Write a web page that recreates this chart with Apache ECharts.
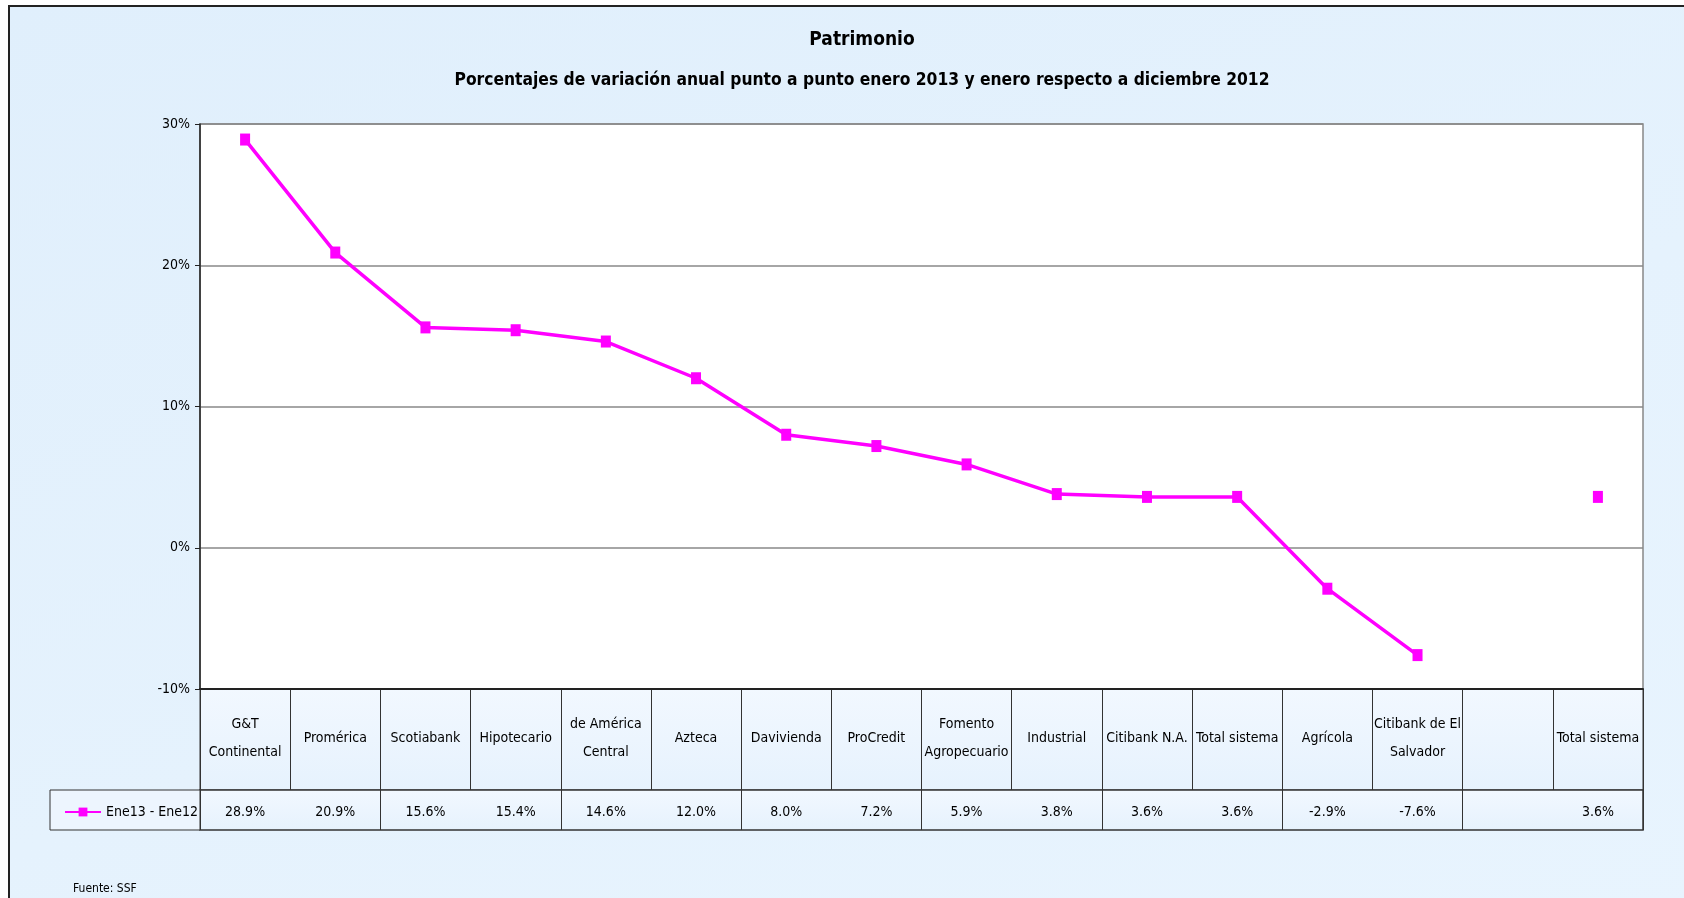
<!DOCTYPE html>
<html><head><meta charset="utf-8">
<script src="https://cdn.jsdelivr.net/npm/echarts@6/dist/echarts.min.js"></script>
<style>
html,body{margin:0;padding:0;background:#fff;overflow:hidden;}
#bg{position:absolute;left:8px;top:5px;width:1700px;height:920px;border-left:2px solid #222;border-top:2px solid #222;background:linear-gradient(160deg,#E0EFFC 0%,#E5F2FD 55%,#E8F4FE 100%);}
#chart{position:absolute;left:0;top:0;width:1684px;height:898px;}
</style></head><body>
<div id="bg"></div><div id="chart"></div>
<script>
const categories = ['G&T\nContinental','Promérica','Scotiabank','Hipotecario','de América\nCentral','Azteca','Davivienda','ProCredit','Fomento\nAgropecuario','Industrial','Citibank N.A.','Total sistema','Agrícola','Citibank de El\nSalvador','','Total sistema'];
const values = [28.9,20.9,15.6,15.4,14.6,12.0,8.0,7.2,5.9,3.8,3.6,3.6,-2.9,-7.6,null,3.6];
const seriesName = 'Ene13 - Ene12';
const titleText = 'Patrimonio';
const subtitleText = 'Porcentajes de variación anual punto a punto enero 2013 y enero respecto a diciembre 2012';
const sourceText = 'Fuente: SSF';
const yMin = -10, yMax = 30, yInterval = 10;

const FONT = "'Liberation Sans Narrow','Arial Narrow','DejaVu Sans Condensed',sans-serif";
const fmt = v => (v === null || v === undefined) ? '' : v.toFixed(1) + '%';
const cellBg = {type: 'linear', x: 0, y: 0, x2: 0, y2: 1,
  colorStops: [{offset: 0, color: '#F2F8FF'}, {offset: 1, color: '#E6F2FD'}]};
const L = 200, R = 41;

const chart = echarts.init(document.getElementById('chart'), null, {renderer:'canvas'});
chart.setOption({
  animation: false,
  textStyle: {fontFamily: FONT},
  title: [
    {text: titleText, left: 862, top: 31, textAlign: 'center', padding: 0,
     textStyle: {fontFamily: FONT, fontSize: 19, fontWeight: 'bold', color: '#000'}},
    {text: subtitleText, left: 862, top: 72, textAlign: 'center', padding: 0,
     textStyle: {fontFamily: FONT, fontSize: 17.3, fontWeight: 'bold', color: '#000'}}
  ],
  legend: {
    data: [seriesName], left: 64, top: 805, padding: 0, z: 10,
    itemWidth: 36, itemHeight: 11, itemGap: 5,
    textStyle: {fontFamily: FONT, fontSize: 14, color: '#000'}
  },
  graphic: [
    {type: 'rect', z: 1, shape: {x: 50, y: 790, width: L - 50, height: 40},
     style: {fill: '#EDF5FE', stroke: '#333', lineWidth: 1}},
    {type: 'text', z: 1, left: 73, top: 883,
     style: {text: sourceText, font: "12px " + FONT, fill: '#000'}}
  ],
  grid: [
    {left: L, right: R, top: 124, height: 565, show: true, backgroundColor: '#fff', borderColor: '#888', borderWidth: 1.5},
    {left: L, right: R, top: 689, height: 101, show: true, backgroundColor: cellBg, borderColor: '#333', borderWidth: 1},
    {left: L, right: R, top: 790, height: 40, show: true, backgroundColor: cellBg, borderColor: '#333', borderWidth: 1.5}
  ],
  xAxis: [
    {gridIndex: 0, type: 'category', data: categories, boundaryGap: true,
     axisLine: {onZero: false, lineStyle: {color: '#222', width: 2}},
     axisTick: {show: false},
     axisLabel: {interval: 0, margin: 49, verticalAlign: 'middle', lineHeight: 28,
                 fontFamily: FONT, fontSize: 14, color: '#000'},
     z: 5},
    {gridIndex: 1, type: 'category', data: categories, boundaryGap: true,
     axisLine: {show: false}, axisTick: {show: false},
     splitLine: {show: true, lineStyle: {color: '#333', width: 1}},
     axisLabel: {interval: 0, margin: 22, verticalAlign: 'middle',
                 fontFamily: FONT, fontSize: 14, color: '#000',
                 formatter: (v, i) => fmt(values[i])}},
    {gridIndex: 2, type: 'category', data: categories, boundaryGap: true,
     axisLine: {show: false}, axisTick: {show: false}, axisLabel: {show: false},
     splitLine: {show: true, lineStyle: {color: '#333', width: 1}}}
  ],
  yAxis: [
    {gridIndex: 0, type: 'value', min: yMin, max: yMax, interval: yInterval,
     axisLine: {show: true, lineStyle: {color: '#222', width: 1.5}},
     axisTick: {show: true, length: 5, lineStyle: {color: '#222'}},
     axisLabel: {formatter: '{value}%', margin: 10, fontFamily: FONT, fontSize: 14, color: '#000'},
     splitLine: {show: true, lineStyle: {color: '#888', width: 1.5}}},
    {gridIndex: 1, type: 'value', show: false, min: 0, max: 1},
    {gridIndex: 2, type: 'value', show: false, min: 0, max: 1}
  ],
  series: [
    {name: seriesName, type: 'line', xAxisIndex: 0, yAxisIndex: 0, data: values,
     connectNulls: false, symbol: 'rect', symbolSize: [10, 12], showSymbol: true,
     lineStyle: {color: '#FF00FF', width: 3.5}, itemStyle: {color: '#FF00FF'}, z: 3}
  ]
});
</script>
</body></html>
